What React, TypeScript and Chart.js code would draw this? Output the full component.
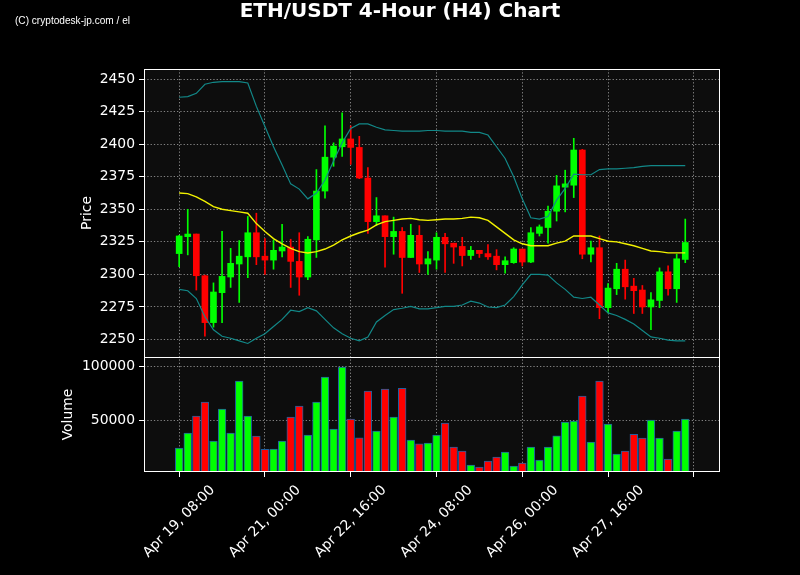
import React, { useEffect, useRef } from 'react';
import { Chart, registerables } from 'chart.js';

Chart.register(...registerables);

// ---- Data (4-hour candles, index 0 = Apr 19, 08:00) ----
const opens = [
  2316, 2329, 2331, 2299, 2263, 2286, 2298, 2308, 2313.5, 2332,
  2314, 2311, 2318, 2321, 2310, 2298, 2326.5, 2364, 2390, 2398,
  2404, 2397.5, 2374, 2340.5, 2345, 2329, 2333, 2313, 2330, 2308,
  2311, 2328.5, 2324, 2321.5, 2314.5, 2318.5, 2316, 2314, 2307.5, 2309,
  2319.5, 2309.5, 2331.5, 2336, 2348.5, 2367, 2368.5, 2395.5, 2315.5, 2320.5,
  2274.5, 2289, 2304, 2291, 2288, 2275, 2280, 2302, 2289, 2311.5,
];
const highs = [
  2330, 2350, 2331, 2299.5, 2293.5, 2333, 2320, 2326, 2344.5, 2347,
  2327.5, 2326.5, 2338.5, 2327, 2332, 2329, 2380.5, 2414, 2401, 2424,
  2414, 2406, 2382, 2359, 2345, 2344, 2336, 2338.5, 2337.5, 2317.5,
  2332, 2331.5, 2324, 2328.5, 2321.5, 2318.5, 2323, 2319, 2313.5, 2320.5,
  2319.5, 2336, 2338, 2352.5, 2376, 2380, 2404.5, 2396, 2325.5, 2329.5,
  2293, 2308.5, 2311, 2297, 2291.5, 2286, 2305, 2306.5, 2315.5, 2342.5,
];
const lows = [
  2306, 2315, 2288, 2252.5, 2259.5, 2263, 2290, 2278.5, 2297.5, 2307.5,
  2300, 2304, 2313.5, 2290, 2284, 2296, 2313, 2358.5, 2383, 2390.5,
  2384.5, 2373.5, 2331.5, 2337.5, 2305.5, 2315.5, 2285.5, 2313, 2301.5, 2300,
  2304, 2301.5, 2308.5, 2306.5, 2311.5, 2313, 2311.5, 2303.5, 2301, 2308.5,
  2306.5, 2309, 2329.5, 2324, 2341, 2348, 2359, 2312, 2309.5, 2266,
  2270.5, 2284.5, 2281, 2270, 2270, 2257.5, 2274.5, 2284, 2278.5, 2309,
];
const closes = [
  2329.5, 2331, 2299, 2263, 2286.5, 2298.5, 2308.5, 2314, 2332, 2313.5,
  2311, 2318.5, 2321, 2310, 2298, 2327, 2364, 2390, 2398.5, 2404,
  2397.5, 2374, 2340.5, 2345, 2329, 2333, 2313, 2330, 2308, 2312,
  2328.5, 2323.5, 2321, 2314.5, 2318.5, 2316, 2313.5, 2307.5, 2310.5, 2319.5,
  2309.5, 2332, 2336.5, 2348.5, 2368, 2369.5, 2395.5, 2315.5, 2320.5, 2274.5,
  2289.5, 2304, 2290.5, 2287.5, 2275, 2280.5, 2302, 2289, 2312, 2324.5,
];
const upperBand = [
  2436, 2436.5, 2439, 2446, 2447.5, 2448, 2448, 2448, 2447, 2429,
  2413.5, 2398, 2384, 2369.5, 2365.5, 2358, 2362.5, 2372.5, 2387, 2401,
  2412, 2415.5, 2415.5, 2413, 2411, 2410.5, 2410, 2410, 2410, 2410.5,
  2410.5, 2410, 2410, 2410, 2409, 2409, 2407, 2398, 2389, 2375,
  2358, 2343.5, 2342.5, 2344.5, 2357, 2366, 2377, 2376.5, 2376.5, 2380.5,
  2381, 2381, 2381.5, 2382, 2383, 2383.5, 2383.5, 2383.5, 2383.5, 2383.5,
];
const middleBand = [
  2362.5, 2362, 2359.5, 2356, 2352, 2350, 2349, 2348, 2347, 2339,
  2333, 2327.5, 2323.5, 2320, 2317.5, 2316.5, 2317.5, 2319.5, 2322.5, 2326.5,
  2329.5, 2332, 2334, 2338, 2340.5, 2341.5, 2342.5, 2343, 2342, 2341.5,
  2342, 2342.5, 2342.5, 2343, 2344, 2343.5, 2341.5, 2336.5, 2331.5, 2326.5,
  2323.5, 2322, 2322, 2322, 2324, 2325.5, 2329.5, 2329.5, 2329.5, 2327.5,
  2325.5, 2325, 2323.5, 2322, 2320, 2318, 2317.5, 2316.5, 2316.5, 2316.5,
];
const lowerBand = [
  2288.5, 2287.5, 2281.5, 2267.5, 2257.5, 2252.5, 2251, 2249, 2247, 2251,
  2254.5, 2260, 2265.5, 2272.5, 2271.5, 2274.5, 2272, 2265.5, 2259, 2254.5,
  2251, 2249, 2252, 2263.5, 2268.5, 2273, 2274, 2275.5, 2273.5, 2273.5,
  2274.5, 2275.5, 2275.5, 2276.5, 2279.5, 2278, 2275, 2274.5, 2276.5, 2283,
  2292, 2300, 2300, 2299.5, 2293.5, 2288.5, 2282.5, 2281.5, 2282.5, 2276.5,
  2270.5, 2268.5, 2265.5, 2262, 2257, 2252, 2251, 2249.5, 2249, 2249,
];
const volumes = [
  24100, 38000, 53700, 66700, 30600, 60200, 38000, 86100, 53700, 35200,
  22900, 23200, 30600, 52800, 63000, 36100, 66700, 89800, 41700, 99100,
  50900, 33700, 76900, 39800, 78700, 52800, 79600, 31500, 28100, 28700,
  36100, 47200, 25000, 21300, 8300, 6500, 12000, 15800, 20400, 7400,
  10200, 25000, 13000, 25000, 35500, 48200, 49100, 72200, 29600, 86100,
  46300, 18500, 21300, 37000, 33300, 50000, 33300, 13900, 39800, 50900,
];
const xTickPositions = [0, 10, 20, 30, 40, 50, 60];
const xTickLabels = [
  'Apr 19, 08:00', 'Apr 21, 00:00', 'Apr 22, 16:00', 'Apr 24, 08:00',
  'Apr 26, 00:00', 'Apr 27, 16:00', '',
];
const priceTicks = [2250, 2275, 2300, 2325, 2350, 2375, 2400, 2425, 2450];
const volumeTicks = [50000, 100000];

const TITLE = 'ETH/USDT 4-Hour (H4) Chart';
const WATERMARK = '(C) cryptodesk-jp.com / el';

const FONT = '"DejaVu Sans", sans-serif';
const GREEN = '#00ff00';
const RED = '#ff0000';
const GRID = 'rgba(170,170,170,0.75)';

export default function App() {
  const ref = useRef<HTMLCanvasElement>(null);

  useEffect(() => {
    const canvas = ref.current;
    if (!canvas) return;
    const idx = opens.map((_, i) => i);
    const colors = idx.map((i) => (closes[i] >= opens[i] ? GREEN : RED));

    const deco = {
      id: 'deco',
      beforeDraw(chart: any) {
        const { ctx, chartArea: ca } = chart;
        const ys = chart.scales.y;
        const yv = chart.scales.yv;
        ctx.save();
        ctx.fillStyle = '#000';
        ctx.fillRect(0, 0, chart.width, chart.height);
        ctx.fillStyle = '#0d0d0d';
        ctx.fillRect(ca.left, ys.top, ca.right - ca.left, ys.bottom - ys.top);
        ctx.fillRect(ca.left, yv.top, ca.right - ca.left, yv.bottom - yv.top);
        ctx.restore();
      },
      afterDraw(chart: any) {
        const { ctx, chartArea: ca } = chart;
        const ys = chart.scales.y;
        const yv = chart.scales.yv;
        const xs = chart.scales.x;
        ctx.save();
        // frames
        ctx.strokeStyle = '#ffffff';
        ctx.lineWidth = 1;
        const L = Math.round(ca.left) + 0.5;
        const R = Math.round(ca.right) - 0.5;
        ctx.strokeRect(L, Math.round(ys.top) + 0.5, R - L, Math.round(ys.bottom) - Math.round(ys.top));
        ctx.strokeRect(L, Math.round(yv.top) + 0.5, R - L, Math.round(yv.bottom) - Math.round(yv.top) - 1);

        // title
        ctx.fillStyle = '#ffffff';
        ctx.font = `bold 20px ${FONT}`;
        ctx.textAlign = 'center';
        ctx.textBaseline = 'alphabetic';
        ctx.fillText(TITLE, 400, 17);

        // watermark
        ctx.save();
        ctx.font = '10px "Liberation Sans Narrow", "Liberation Sans", sans-serif';
        ctx.textAlign = 'left';
        const w = ctx.measureText(WATERMARK).width;
        ctx.translate(15, 24);
        ctx.scale(115 / w, 1);
        ctx.fillText(WATERMARK, 0, 0);
        ctx.restore();

        // axis titles
        ctx.font = `13.9px ${FONT}`;
        ctx.textAlign = 'center';
        ctx.textBaseline = 'middle';
        ctx.save();
        ctx.translate(87, (ys.top + ys.bottom) / 2);
        ctx.rotate(-Math.PI / 2);
        ctx.fillText('Price', 0, 0);
        ctx.restore();
        ctx.save();
        ctx.translate(68, (yv.top + yv.bottom) / 2);
        ctx.rotate(-Math.PI / 2);
        ctx.fillText('Volume', 0, 0);
        ctx.restore();

        // x tick labels, rotated 45 deg, centred on tick
        const s = Math.SQRT1_2;
        xTickPositions.forEach((v, k) => {
          const label = xTickLabels[k];
          if (!label) return;
          const px = xs.getPixelForValue(v);
          const tw = ctx.measureText(label).width;
          const h = 13.9;
          const bh = (tw + h) * s;
          ctx.save();
          ctx.translate(px, ca.bottom + 11 + bh / 2);
          ctx.rotate(-Math.PI / 4);
          ctx.fillText(label, 0, 0);
          ctx.restore();
        });
        ctx.restore();
      },
    };

    const gridOpts = {
      color: GRID,
      lineWidth: 1,
      drawTicks: true,
      tickLength: 5,
      tickColor: '#ffffff',
      tickWidth: 1,
      tickBorderDash: [],
      offset: false,
    };

    const chart = new Chart(canvas, {
      type: 'bar',
      data: {
        datasets: [
          {
            type: 'line',
            label: 'Upper Band',
            data: idx.map((i) => ({ x: i, y: upperBand[i] })),
            yAxisID: 'y',
            borderColor: '#128888',
            borderWidth: 1.2,
            pointRadius: 0,
            fill: false,
            order: 0,
          },
          {
            type: 'line',
            label: 'Lower Band',
            data: idx.map((i) => ({ x: i, y: lowerBand[i] })),
            yAxisID: 'y',
            borderColor: '#128888',
            borderWidth: 1.2,
            pointRadius: 0,
            fill: false,
            order: 0,
          },
          {
            type: 'line',
            label: 'SMA',
            data: idx.map((i) => ({ x: i, y: middleBand[i] })),
            yAxisID: 'y',
            borderColor: '#f2f200',
            borderWidth: 1.4,
            pointRadius: 0,
            fill: false,
            order: 0,
          },
          {
            type: 'bar',
            label: 'Wick',
            data: idx.map((i) => ({ x: i, y: [lows[i], highs[i]] })),
            yAxisID: 'y',
            backgroundColor: colors,
            barThickness: 1,
            grouped: false,
            order: 2,
          },
          {
            type: 'bar',
            label: 'Body',
            data: idx.map((i) => ({ x: i, y: [opens[i], closes[i]] })),
            yAxisID: 'y',
            backgroundColor: colors,
            barThickness: 6,
            grouped: false,
            order: 1,
          },
          {
            type: 'bar',
            label: 'Volume',
            data: idx.map((i) => ({ x: i, y: volumes[i] })),
            yAxisID: 'yv',
            backgroundColor: colors,
            borderColor: '#1f5f9f',
            borderWidth: 1,
            borderSkipped: false,
            barThickness: 7.7,
            grouped: false,
            order: 1,
          },
        ],
      } as any,
      options: {
        responsive: false,
        animation: false,
        events: [],
        layout: { padding: { top: 69, right: 80, left: 0, bottom: 0 } },
        plugins: {
          legend: { display: false },
          tooltip: { enabled: false },
          title: { display: false },
        },
        scales: {
          x: {
            type: 'linear',
            min: -4.1,
            max: 63.05,
            offset: false,
            afterBuildTicks: (s: any) => {
              s.ticks = xTickPositions.map((v) => ({ value: v }));
            },
            afterFit: (s: any) => {
              s.height = 103;
            },
            ticks: { display: false },
            grid: gridOpts,
            border: { display: false, dash: [1.3, 2] },
          },
          yv: {
            type: 'linear',
            position: 'left',
            stack: 'panels',
            stackWeight: 115,
            min: 2000,
            max: 108500,
            afterBuildTicks: (s: any) => {
              s.ticks = volumeTicks.map((v) => ({ value: v }));
            },
            afterFit: (s: any) => {
              s.width = 144;
            },
            ticks: {
              color: '#ffffff',
              font: { family: FONT, size: 13.9 },
              padding: 4,
              autoSkip: false,
              callback: (v: any) => String(v),
            },
            grid: gridOpts,
            border: { display: false, dash: [1.3, 2] },
          },
          y: {
            type: 'linear',
            position: 'left',
            stack: 'panels',
            stackWeight: 288,
            min: 2236.6,
            max: 2457.7,
            afterBuildTicks: (s: any) => {
              s.ticks = priceTicks.map((v) => ({ value: v }));
            },
            afterFit: (s: any) => {
              s.width = 144;
            },
            ticks: {
              color: '#ffffff',
              font: { family: FONT, size: 13.9 },
              padding: 4,
              autoSkip: false,
              callback: (v: any) => String(v),
            },
            grid: gridOpts,
            border: { display: false, dash: [1.3, 2] },
          },
        },
      } as any,
      plugins: [deco],
    });

    return () => chart.destroy();
  }, []);

  return (
    <div style={{ position: 'fixed', left: 0, top: 0, width: 800, height: 575, background: '#000' }}>
      <canvas ref={ref} width={800} height={575} style={{ display: 'block', width: 800, height: 575 }} />
    </div>
  );
}
